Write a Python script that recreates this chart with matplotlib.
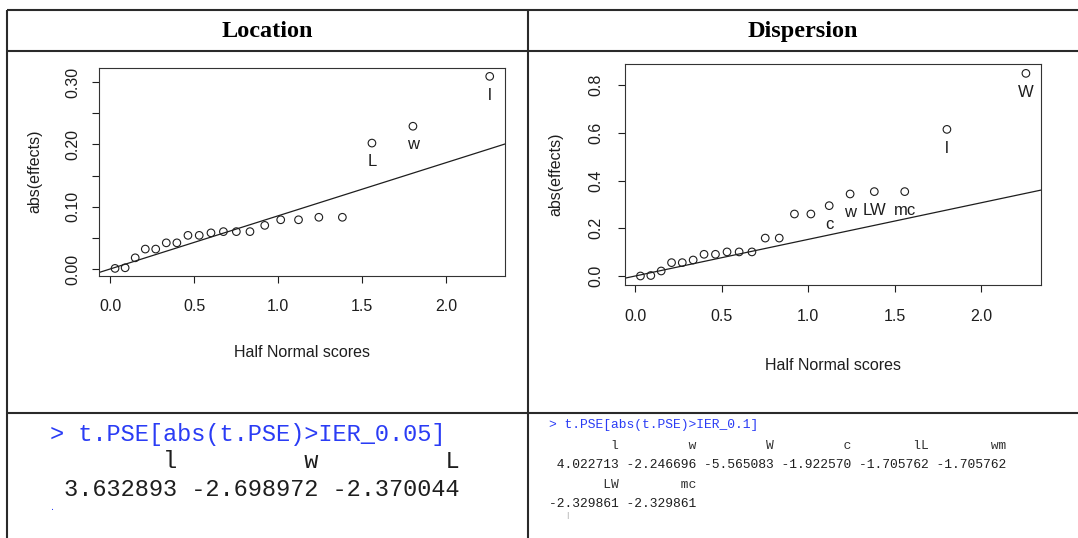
import matplotlib
matplotlib.use("Agg")
import matplotlib.pyplot as plt

# ---- Data ---------------------------------------------------------------------
# half normal scores (x) shared by both panels, abs(effects) per panel
scores = [0.030, 0.090, 0.150, 0.210, 0.272, 0.335, 0.398, 0.464, 0.531, 0.601,
          0.675, 0.752, 0.833, 0.921, 1.016, 1.122, 1.243, 1.383, 1.559, 1.803, 2.260]
loc_effects = [0.001, 0.002, 0.018, 0.032, 0.032, 0.042, 0.042, 0.054, 0.054, 0.058,
               0.060, 0.060, 0.060, 0.070, 0.079, 0.079, 0.083, 0.083, 0.202, 0.229, 0.309]
disp_effects = [0.000, 0.002, 0.021, 0.056, 0.056, 0.067, 0.091, 0.091, 0.101, 0.101,
                0.101, 0.159, 0.159, 0.260, 0.260, 0.295, 0.344, 0.354, 0.354, 0.615, 0.850]
loc_point_labels = {18: "L", 19: "w", 20: "l"}
disp_point_labels = {15: "c", 16: "w", 17: "LW", 18: "mc", 19: "l", 20: "W"}
loc_slope = 0.0853
disp_slope = 0.1535

loc_yticks = [0.00, 0.05, 0.10, 0.15, 0.20, 0.25, 0.30]
loc_yticklabels = ["0.00", "", "0.10", "", "0.20", "", "0.30"]
disp_yticks = [0.0, 0.2, 0.4, 0.6, 0.8]
disp_yticklabels = ["0.0", "0.2", "0.4", "0.6", "0.8"]
xticks = [0.0, 0.5, 1.0, 1.5, 2.0]
xticklabels = ["0.0", "0.5", "1.0", "1.5", "2.0"]

# console output below the plots
loc_prompt = "> t.PSE[abs(t.PSE)>IER_0.05]"
loc_names = ["l", "w", "L"]
loc_values = [3.632893, -2.698972, -2.370044]
disp_prompt = "> t.PSE[abs(t.PSE)>IER_0.1]"
disp_names = ["l", "w", "W", "c", "lL", "wm", "LW", "mc"]
disp_values = [4.022713, -2.246696, -5.565083, -1.922570, -1.705762, -1.705762,
               -2.329861, -2.329861]

# ---- Style --------------------------------------------------------------------
INK = "#1e1e1e"
RULE = "#2a2a2a"
BLUE = "#2a3cf5"
SANS = ["Liberation Sans", "DejaVu Sans"]
MONO = ["Liberation Mono", "DejaVu Sans Mono"]
SERIF = ["Liberation Serif", "DejaVu Serif"]
FS = 11.5

W, H = 1078, 538
fig = plt.figure(figsize=(W / 100, H / 100), dpi=100)

# background axis in pixel coordinates for the table grid and console text
bg = fig.add_axes([0, 0, 1, 1])
bg.set_xlim(0, W)
bg.set_ylim(H, 0)
bg.axis("off")

LW_RULE = 1.5
for yv in (10, 51, 413):
    bg.plot([7, W], [yv, yv], color=RULE, lw=LW_RULE, solid_capstyle="butt")
for xv in (7, 528):
    bg.plot([xv, xv], [10, H], color=RULE, lw=LW_RULE, solid_capstyle="butt")

bg.text(267.5, 37, "Location", ha="center", va="baseline", fontsize=17.5,
        fontweight="bold", family=SERIF, color="black")
bg.text(803, 37, "Dispersion", ha="center", va="baseline", fontsize=17.5,
        fontweight="bold", family=SERIF, color="black")


def fmt_rows(names, values, per_row):
    rows = []
    for i in range(0, len(values), per_row):
        nm = " ".join(f"{n:>9}" for n in names[i:i + per_row])
        vl = " ".join(f"{v:9.6f}" for v in values[i:i + per_row])
        rows.append((nm, vl))
    return rows


# left console block
bg.text(50, 441, loc_prompt, ha="left", va="baseline", family=MONO,
        fontsize=17, color=BLUE)
(nm, vl), = fmt_rows(loc_names, loc_values, 3)
bg.text(50, 467.5, nm, ha="left", va="baseline", family=MONO, fontsize=17, color=INK)
bg.text(50, 495.5, vl, ha="left", va="baseline", family=MONO, fontsize=17, color=INK)
bg.text(52, 510, ".", ha="center", va="baseline", family=MONO, fontsize=6, color=BLUE)

# right console block
bg.text(549, 428, disp_prompt, ha="left", va="baseline", family=MONO,
        fontsize=9.4, color=BLUE)
y = 449
for nm, vl in fmt_rows(disp_names, disp_values, 6):
    bg.text(549, y, nm, ha="left", va="baseline", family=MONO, fontsize=9.4, color="#333333")
    bg.text(549, y + 19, vl, ha="left", va="baseline", family=MONO, fontsize=9.4, color=INK)
    y += 39
bg.text(567, 517, "|", ha="center", va="baseline", family=MONO, fontsize=5, color="#999999")


# ---- Half normal plots ---------------------------------------------------------
def px_rect(left, top, right, bottom):
    return [left / W, 1 - bottom / H, (right - left) / W, (bottom - top) / H]


def halfnorm(rect, effects, labels, slope, xlim, ylim, yticks, yticklabels,
             ypad, xpad, ylab_x, xlab_y):
    ax = fig.add_axes(rect)
    ax.scatter(scores, effects, s=30, facecolors="none", edgecolors=INK,
               linewidths=0.8, zorder=3)
    ax.axline((0, 0), slope=slope, color=INK, lw=0.9)
    for i, lab in labels.items():
        ax.annotate(lab, (scores[i], effects[i]), xytext=(0, -13.5),
                    textcoords="offset points", ha="center", va="center",
                    fontsize=FS + 0.5, family=SANS, color=INK)
    ax.set_xlim(*xlim)
    ax.set_ylim(*ylim)
    ax.set_xticks(xticks)
    ax.set_xticklabels(xticklabels, family=SANS, fontsize=FS, color=INK)
    ax.set_yticks(yticks)
    ax.set_yticklabels(yticklabels, family=SANS, fontsize=FS, color=INK,
                       rotation=90, va="center")
    ax.tick_params(axis="both", direction="out", length=5, width=0.8, color=INK)
    ax.tick_params(axis="y", pad=ypad)
    ax.tick_params(axis="x", pad=xpad)
    for sp in ax.spines.values():
        sp.set_color("#333333")
        sp.set_linewidth(0.8)
    ax.text(ylab_x, 0.5, "abs(effects)", transform=ax.transAxes, rotation=90,
            ha="center", va="center", family=SANS, fontsize=FS, color=INK)
    ax.text(0.5, xlab_y, "Half Normal scores", transform=ax.transAxes,
            ha="center", va="center", family=SANS, fontsize=FS, color=INK)
    return ax


halfnorm(px_rect(99, 67.7, 505, 275.7), loc_effects, loc_point_labels, loc_slope,
         (-0.0655, 2.351), (-0.0107, 0.3229), loc_yticks, loc_yticklabels,
         ypad=8.5, xpad=11.5, ylab_x=-64 / 406, xlab_y=-77 / 208)
halfnorm(px_rect(624.7, 64.3, 1041.3, 285), disp_effects, disp_point_labels, disp_slope,
         (-0.061, 2.349), (-0.0378, 0.888), disp_yticks, disp_yticklabels,
         ypad=10.5, xpad=12, ylab_x=-68.7 / 416.6, xlab_y=-80 / 220.7)

fig.savefig("out.png", dpi=100, facecolor="white")
